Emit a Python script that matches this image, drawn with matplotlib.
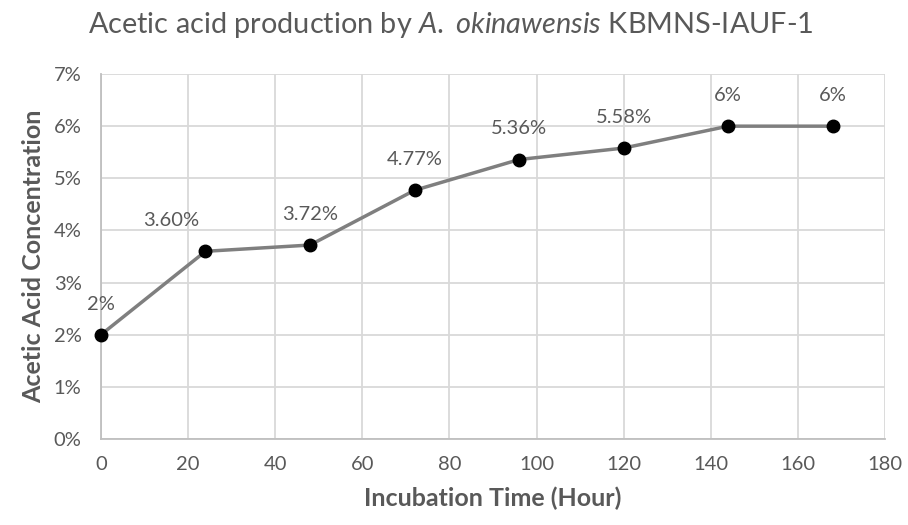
import matplotlib.pyplot as plt
from matplotlib.ticker import FuncFormatter, MultipleLocator

plt.rcParams['font.family'] = ['Lato', 'DejaVu Sans']
plt.rcParams['mathtext.fontset'] = 'custom'
plt.rcParams['mathtext.rm'] = 'Lato'
plt.rcParams['mathtext.it'] = 'Lato:italic'

hours = [0, 24, 48, 72, 96, 120, 144, 168]
acid = [2.00, 3.60, 3.72, 4.77, 5.36, 5.58, 6.00, 6.00]
labels = ["2%", "3.60%", "3.72%", "4.77%", "5.36%", "5.58%", "6%", "6%"]

fig = plt.figure(figsize=(9.08, 5.25), dpi=100)
ax = fig.add_axes([0.1112, 0.1638, 0.8634, 0.6952])

ax.plot(hours, acid, color='#7f7f7f', lw=2.5, marker='o', ms=9,
        mfc='black', mec='black', zorder=3, clip_on=False)

# excel style labels, the 3.60% one sits left of its point
dx = [0, -25, 0, 0, 0, 0, 0, 0]
for h, v, t, d in zip(hours, acid, labels, dx):
    ax.annotate(t, (h, v), xytext=(d, 22), textcoords='offset points',
                ha='center', va='center', fontsize=14.5, color='#595959')

ax.set_xlim(0, 180)
ax.set_ylim(0, 7)
ax.xaxis.set_major_locator(MultipleLocator(20))
ax.yaxis.set_major_locator(MultipleLocator(1))
ax.yaxis.set_major_formatter(FuncFormatter(lambda v, p: "%d%%" % v))

ax.grid(True, color='#d9d9d9', lw=1.3)
ax.set_axisbelow(True)
for s in ['top', 'right']:
    ax.spines[s].set_visible(False)
for s in ['left', 'bottom']:
    ax.spines[s].set_color('#bfbfbf')
    ax.spines[s].set_linewidth(1.3)
ax.tick_params(length=0, labelsize=14.5, colors='#595959')
ax.tick_params(axis='y', pad=14)
ax.tick_params(axis='x', pad=12)

ax.set_xlabel("Incubation Time (Hour)", fontsize=18, fontweight='bold',
              color='#595959', labelpad=10)
ax.set_ylabel("Acetic Acid Concentration", fontsize=18, fontweight='bold',
              color='#595959', labelpad=6)

fig.text(0.496, 0.952, r"Acetic acid production by $\mathit{A.}$ $\mathit{okinawensis}$ KBMNS-IAUF-1",
         ha='center', va='center', fontsize=20.8, color='#595959')

plt.savefig("out.png", dpi=100)
